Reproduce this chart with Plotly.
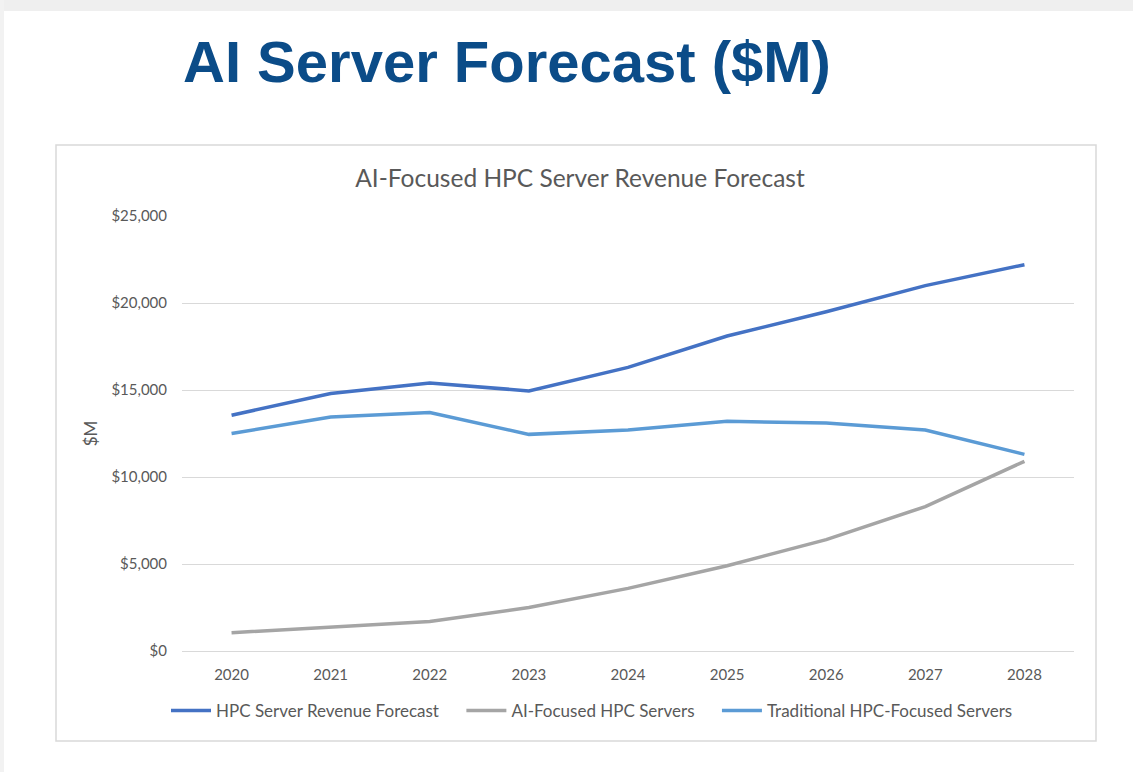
import plotly.graph_objects as go

years = ["2020", "2021", "2022", "2023", "2024", "2025", "2026", "2027", "2028"]
hpc_total = [13550, 14800, 15400, 14950, 16300, 18100, 19500, 21000, 22200]
ai_focused = [1050, 1350, 1700, 2500, 3600, 4900, 6400, 8300, 10900]
traditional = [12500, 13450, 13700, 12450, 12700, 13200, 13100, 12700, 11300]

series_names = ["HPC Server Revenue Forecast", "AI-Focused HPC Servers", "Traditional HPC-Focused Servers"]
series_colors = ["#4472C4", "#A5A5A5", "#5B9BD5"]
y_ticks = [0, 5000, 10000, 15000, 20000, 25000]

W, H = 1133, 772
L, R, T, B = 182, 59, 216, 121
pw, ph = W - L - R, H - T - B

def px_x(x):
    return (x - L) / pw

def px_y(y):
    return (H - B - y) / ph

FONT = "Lato"
GRAY = "#595959"
PAD = "\u00a0" * 4

fig = go.Figure()
for i, (name, vals, col) in enumerate(zip(series_names, [hpc_total, ai_focused, traditional], series_colors)):
    label = name + (PAD if i < len(series_names) - 1 else "")
    fig.add_trace(go.Scatter(x=years, y=vals, name=label, mode="lines",
                             line=dict(color=col, width=3.5)))

fig.update_layout(
    width=W, height=H, autosize=False,
    margin=dict(l=L, r=R, t=T, b=B),
    paper_bgcolor="white", plot_bgcolor="white",
    font=dict(family=FONT, color=GRAY, size=15),
    title=dict(text="AI-Focused HPC Server Revenue Forecast", xref="container", yref="container",
               x=580 / W, xanchor="center", y=1 - 178 / H, yanchor="middle",
               font=dict(family=FONT, size=24.5, color=GRAY)),
    showlegend=True,
    legend=dict(orientation="h", x=px_x(166), xanchor="left", y=px_y(711), yanchor="middle",
                itemwidth=40, font=dict(family=FONT, size=17, color=GRAY),
                bgcolor="rgba(0,0,0,0)"),
    xaxis=dict(type="category", range=[-0.5, 8.5], showgrid=False, showline=True,
               linecolor="#D9D9D9", linewidth=1, ticks="", ticklabelstandoff=10,
               tickfont=dict(family=FONT, size=15, color=GRAY), fixedrange=True),
    yaxis=dict(range=[0, 25000], tickvals=y_ticks, tickformat="$,.0f",
               showgrid=True, gridcolor="#D9D9D9", gridwidth=1, zeroline=False,
               showline=False, ticks="", ticklabelstandoff=14,
               tickfont=dict(family=FONT, size=15, color=GRAY),
               title=dict(text="$M", font=dict(family=FONT, size=17, color=GRAY), standoff=9),
               fixedrange=True),
)

fig.add_annotation(text="<b>AI Server Forecast ($M)</b>", xref="paper", yref="paper",
                   x=px_x(181), xanchor="left", y=px_y(61), yanchor="middle", showarrow=False,
                   font=dict(family="Liberation Sans", size=58, color="#0B4C88"))

# chart frame
fig.add_shape(type="rect", xref="paper", yref="paper",
              x0=px_x(56), x1=px_x(1096), y0=px_y(145), y1=px_y(741),
              line=dict(color="#D9D9D9", width=1.5), fillcolor="rgba(0,0,0,0)", layer="below")
# slide edge shading
fig.add_shape(type="rect", xref="paper", yref="paper",
              x0=px_x(0), x1=px_x(W), y0=px_y(0), y1=px_y(11),
              line=dict(width=0), fillcolor="#EFEFEF", layer="below")
fig.add_shape(type="rect", xref="paper", yref="paper",
              x0=px_x(0), x1=px_x(4), y0=px_y(0), y1=px_y(H),
              line=dict(width=0), fillcolor="#F2F2F2", layer="below")

fig.write_html("out.html")
